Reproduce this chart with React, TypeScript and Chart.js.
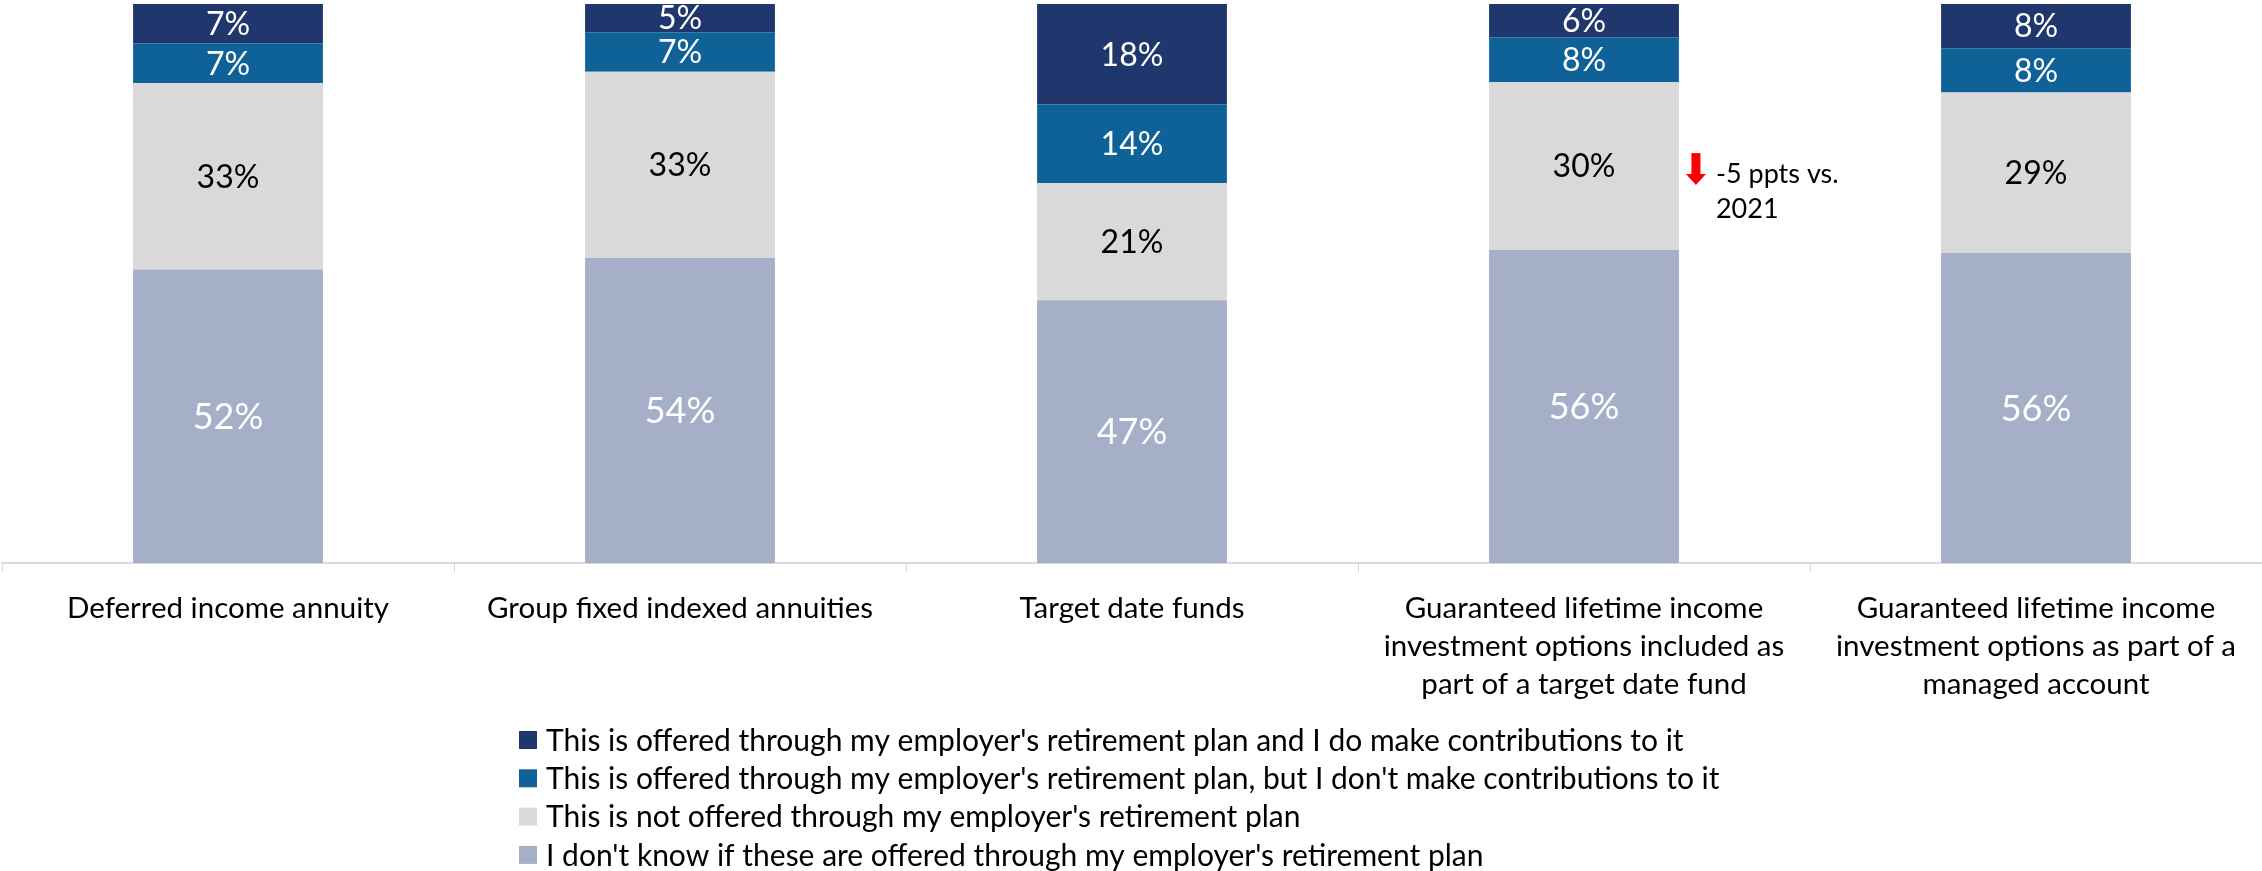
import React, { useEffect, useRef } from "react";
import { Chart, registerables } from "chart.js";

Chart.register(...registerables);

const categories: string[][] = [
  ["Deferred income annuity"],
  ["Group fixed indexed annuities"],
  ["Target date funds"],
  ["Guaranteed lifetime income", "investment options included as", "part of a target date fund"],
  ["Guaranteed lifetime income", "investment options as part of a", "managed account"],
];

const seriesLabels = [
  "I don't know if these are offered through my employer's retirement plan",
  "This is not offered through my employer's retirement plan",
  "This is offered through my employer's retirement plan, but I don't make contributions to it",
  "This is offered through my employer's retirement plan and I do make contributions to it",
];

const dontKnow = [52, 54, 47, 56, 56];
const notOffered = [33, 33, 21, 30, 29];
const offeredNoContrib = [7, 7, 14, 8, 8];
const offeredContrib = [7, 5, 18, 6, 8];

const seriesColors = ["#A5AFC7", "#D9D9D9", "#0F6297", "#1F376C"];
const labelColors = ["#FFFFFF", "#000000", "#FFFFFF", "#FFFFFF"];
const labelSizes = [36, 32, 32, 32];

const annotationLines = ["-5 ppts vs.", "2021"];
const annotationCategory = 3;
const annotationSeries = 1;

const FONT = "Lato, 'Open Sans', sans-serif";

export default function App() {
  const ref = useRef<HTMLCanvasElement | null>(null);

  useEffect(() => {
    if (!ref.current) return;
    const series = [dontKnow, notOffered, offeredNoContrib, offeredContrib];
    const totals = categories.map((_, j) => series.reduce((s, arr) => s + arr[j], 0));

    const dataLabelPlugin = {
      id: "dataLabels",
      afterDatasetsDraw(chart: any) {
        const ctx = chart.ctx;
        ctx.save();
        ctx.textAlign = "center";
        ctx.textBaseline = "middle";
        chart.data.datasets.forEach((ds: any, i: number) => {
          const meta = chart.getDatasetMeta(i);
          ctx.font = `${labelSizes[i]}px ${FONT}`;
          meta.data.forEach((el: any, j: number) => {
            const p = el.getProps(["x", "y", "base"], true);
            ctx.fillStyle = labelColors[i];
            ctx.fillText(series[i][j] + "%", p.x, (p.y + p.base) / 2 + 1);
          });
        });
        ctx.restore();
      },
    };

    const annotationPlugin = {
      id: "annotation",
      afterDatasetsDraw(chart: any) {
        const ctx = chart.ctx;
        const el = chart.getDatasetMeta(annotationSeries).data[annotationCategory];
        const p = el.getProps(["x", "y", "base", "width"], true);
        const right = p.x + p.width / 2;
        const cy = (p.y + p.base) / 2;
        const ax = right + 17;
        ctx.save();
        ctx.fillStyle = "#FF0000";
        ctx.fillRect(ax - 4.5, cy - 13, 9, 22);
        ctx.beginPath();
        ctx.moveTo(ax - 10, cy + 8);
        ctx.lineTo(ax + 10, cy + 8);
        ctx.lineTo(ax, cy + 19);
        ctx.closePath();
        ctx.fill();
        ctx.fillStyle = "#000000";
        ctx.font = `27px ${FONT}`;
        ctx.textAlign = "left";
        ctx.textBaseline = "middle";
        annotationLines.forEach((t, k) => {
          ctx.fillText(t, right + 37, cy + 8 + k * 35);
        });
        ctx.restore();
      },
    };

    const legendPlugin = {
      id: "customLegend",
      afterDraw(chart: any) {
        const ctx = chart.ctx;
        ctx.save();
        ctx.font = `30px ${FONT}`;
        ctx.textAlign = "left";
        ctx.textBaseline = "middle";
        const left = 519;
        const startY = 740;
        const step = 38.3;
        const n = chart.data.datasets.length;
        for (let k = 0; k < n; k++) {
          const i = n - 1 - k;
          const ds = chart.data.datasets[i];
          const cy = startY + k * step;
          ctx.fillStyle = ds.backgroundColor;
          ctx.fillRect(left, cy - 9, 18, 18);
          ctx.fillStyle = "#000000";
          ctx.fillText(ds.label, left + 27, cy + 1);
        }
        ctx.restore();
      },
    };

    const chart = new Chart(ref.current, {
      type: "bar",
      data: {
        labels: categories,
        datasets: series.map((arr, i) => ({
          label: seriesLabels[i],
          data: arr.map((v, j) => (v / totals[j]) * 100),
          backgroundColor: seriesColors[i],
          borderWidth: 0,
          barPercentage: 0.42,
          categoryPercentage: 1,
        })),
      },
      options: {
        responsive: false,
        animation: false,
        layout: { padding: { top: 4, left: 2, right: 0, bottom: 151 } },
        plugins: {
          legend: { display: false },
          tooltip: { enabled: false },
        },
        scales: {
          x: {
            stacked: true,
            border: { display: true, color: "#D9D9D9", width: 2 },
            grid: {
              display: true,
              drawOnChartArea: false,
              drawTicks: true,
              tickLength: 9,
              color: "#D9D9D9",
              lineWidth: 1,
              offset: true,
            },
            ticks: {
              color: "#000000",
              font: { family: FONT, size: 29.5, lineHeight: 38 / 29.5 },
              padding: 17,
              maxRotation: 0,
              autoSkip: false,
            },
          },
          y: {
            stacked: true,
            display: false,
            min: 0,
            max: 100,
          },
        },
      },
      plugins: [dataLabelPlugin, annotationPlugin, legendPlugin],
    });
    return () => chart.destroy();
  }, []);

  return (
    <div style={{ position: "absolute", left: 0, top: 0, width: 2262, height: 871 }}>
      <canvas ref={ref} width={2262} height={871} style={{ display: "block" }} />
    </div>
  );
}
